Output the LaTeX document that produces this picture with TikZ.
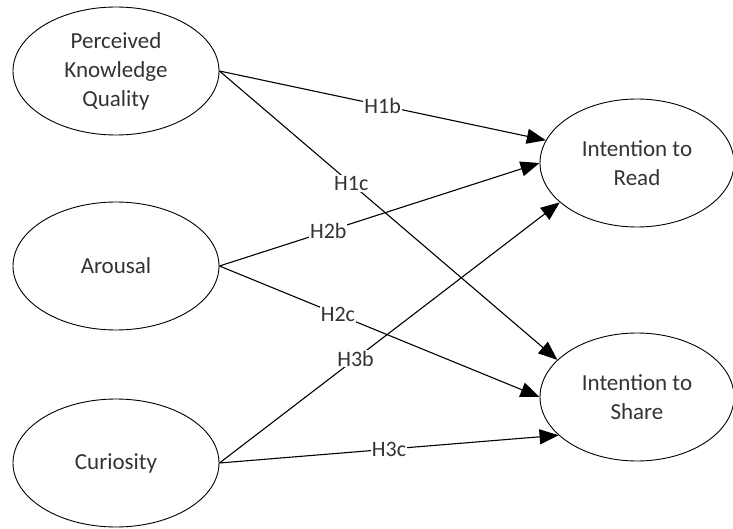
\documentclass[tikz,border=0pt]{standalone}
\usepackage{fontspec}
\setmainfont{Carlito}
\usetikzlibrary{shapes.geometric,arrows.meta}

\tikzset{
  construct/.style={draw, ellipse, line width=0.9pt, minimum width=206pt, minimum height=128pt,
    inner sep=0pt, align=center, text=black!80, font=\fontsize{23}{29}\selectfont},
  hyp/.style={draw, line width=1.1pt, -{Triangle[length=19pt,width=15pt]}},
  hlabel/.style={fill=white, inner sep=1pt, text=black!80, font=\fontsize{22}{26}\selectfont}
}

\begin{document}
\begin{tikzpicture}[x=1pt, y=-1pt]
    \useasboundingbox (0,0) rectangle (733,529);

    % constructs
    \node[construct] (pkq) at (116,71) {Perceived\\Knowledge\\Quality};
    \node[construct] (arousal) at (116,266) {Arousal};
    \node[construct] (curiosity) at (116,463) {Curiosity};
    \node[construct, minimum width=194pt] (read) at (637,163) {Intention to\\Read};
    \node[construct, minimum width=194pt] (share) at (637,397) {Intention to\\Share};

    % hypotheses
    \draw[hyp] (pkq.east) -- node[hlabel, pos=0.5] (h1b) {H1b} (read.166);
    \draw[hyp] (pkq.east) -- node[hlabel, pos=0.39] (h1c) {H1c} (share.155);
    \draw[hyp] (arousal.east) -- node[hlabel, pos=0.34] (h2b) {H2b} (read.west);
    \draw[hyp] (arousal.east) -- node[hlabel, pos=0.37] (h2c) {H2c} (share.west);
    \draw[hyp] (curiosity.east) -- node[hlabel, pos=0.4] (h3b) {H3b} (read.207);
    \draw[hyp] (curiosity.east) -- node[hlabel, pos=0.5] (h3c) {H3c} (share.206);
\end{tikzpicture}
\end{document}
